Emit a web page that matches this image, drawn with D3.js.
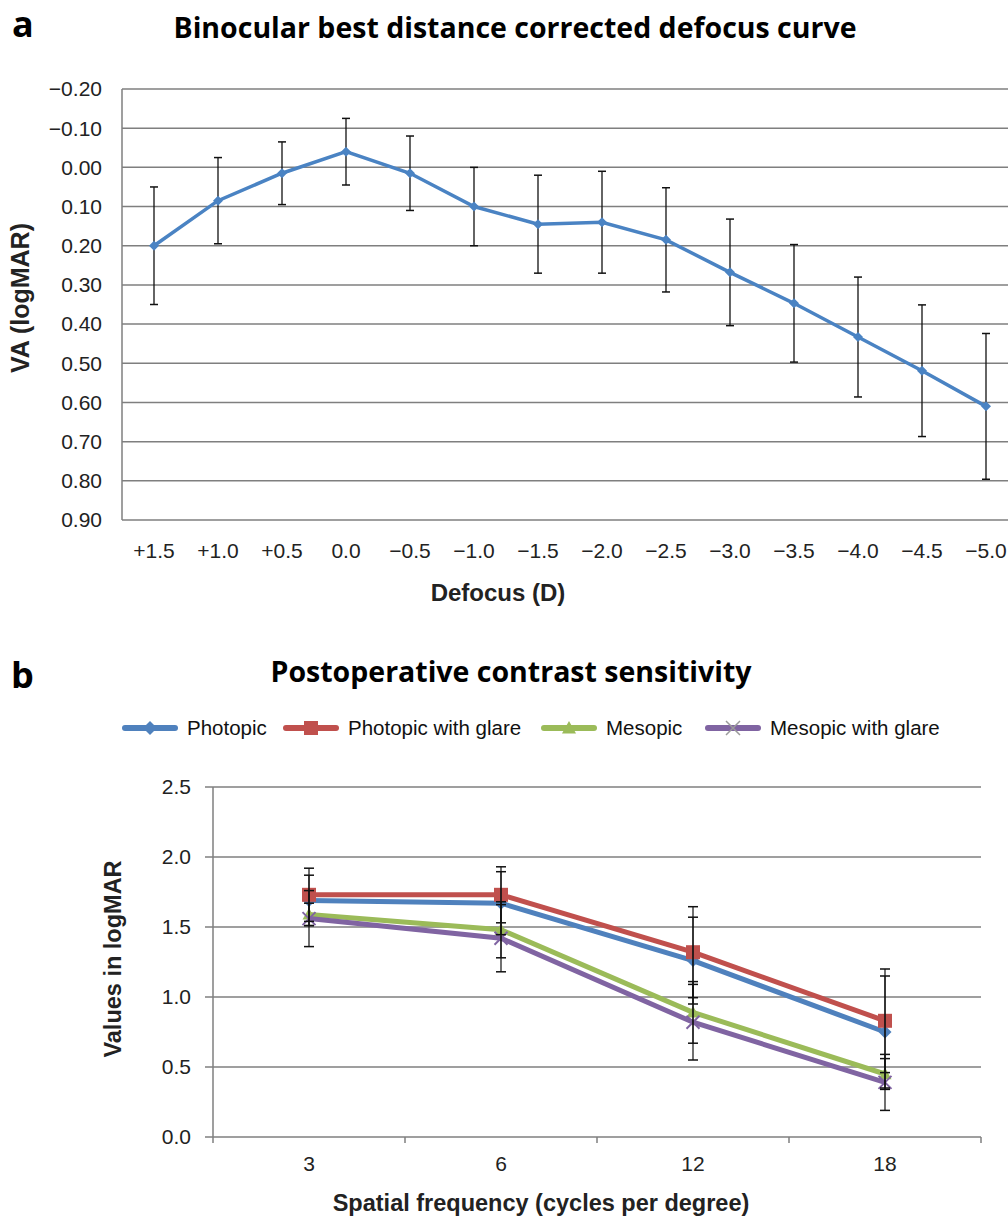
<!DOCTYPE html>
<html>
<head>
<meta charset="utf-8">
<script src="https://cdn.jsdelivr.net/npm/d3@7"></script>
<style>
  body { margin: 0; background: #fff; }
  svg { display: block; }
</style>
</head>
<body>
<div id="chart"></div>
<script>
// ---- panel a: defocus curve ----
const defocusLabels = ["+1.5", "+1.0", "+0.5", "0.0", "\u22120.5", "\u22121.0", "\u22121.5", "\u22122.0", "\u22122.5", "\u22123.0", "\u22123.5", "\u22124.0", "\u22124.5", "\u22125.0"];
const defocusVA = [0.20, 0.085, 0.015, -0.04, 0.015, 0.10, 0.145, 0.14, 0.185, 0.268, 0.347, 0.433, 0.519, 0.61];
const defocusSD = [0.15, 0.11, 0.08, 0.085, 0.095, 0.10, 0.125, 0.13, 0.133, 0.136, 0.15, 0.153, 0.168, 0.186];
const vaTicks = [-0.2, -0.1, 0, 0.1, 0.2, 0.3, 0.4, 0.5, 0.6, 0.7, 0.8, 0.9];

// ---- panel b: contrast sensitivity ----
const freqLabels = ["3", "6", "12", "18"];
const seriesNames = ["Photopic", "Photopic with glare", "Mesopic", "Mesopic with glare"];
const photopic = [1.69, 1.67, 1.26, 0.75];
const photopicGlare = [1.73, 1.73, 1.32, 0.83];
const mesopic = [1.59, 1.48, 0.89, 0.45];
const mesopicGlare = [1.56, 1.42, 0.82, 0.39];
const photopicSD = [0.18, 0.225, 0.31, 0.40];
const photopicGlareSD = [0.19, 0.20, 0.325, 0.37];
const mesopicSD = [0.08, 0.20, 0.22, 0.11];
const mesopicGlareSD = [0.20, 0.24, 0.27, 0.20];
const csTicks = [0, 0.5, 1.0, 1.5, 2.0, 2.5];

const seriesColors = ["#4F81BD", "#C0504D", "#9BBB59", "#8064A2"];
const seriesMarkers = ["diamond", "square", "triangle", "cross"];

const W = 1008, H = 1217;
const tickFont = "'Liberation Sans', Arial, sans-serif";
const titleFont = "'Open Sans', 'Noto Sans', sans-serif";

const svg = d3.select("#chart").append("svg")
    .attr("width", W)
    .attr("height", H);

// marker shapes
function markerPath(type, size) {
    const s = size / 2;
    if (type === "diamond") return `M0,${-s}L${s},0L0,${s}L${-s},0Z`;
    if (type === "square") return `M${-s},${-s}H${s}V${s}H${-s}Z`;
    if (type === "triangle") return `M0,${-s}L${s},${s * 0.8}H${-s}Z`;
    return `M${-s},${-s}L${s},${s}M${s},${-s}L${-s},${s}`;
}

// ================= panel a =================
const a = { left: 122, right: 1018, top: 89, bottom: 520 };

const xA = d3.scaleBand()
    .domain(defocusLabels)
    .range([a.left, a.right]);

const yA = d3.scaleLinear()
    .domain([-0.2, 0.9])
    .range([a.top, a.bottom]);

svg.append("text")
    .attr("x", 12).attr("y", 37)
    .style("font-family", titleFont)
    .style("font-weight", "bold")
    .style("font-size", "36px")
    .text("a");

svg.append("text")
    .attr("x", 515).attr("y", 38)
    .attr("text-anchor", "middle")
    .style("font-family", titleFont)
    .style("font-weight", "bold")
    .style("font-size", "28.5px")
    .text("Binocular best distance corrected defocus curve");

const gA = svg.append("g");

gA.selectAll(".grid")
    .data(vaTicks)
    .enter().append("line")
    .attr("x1", a.left).attr("x2", W)
    .attr("y1", d => yA(d)).attr("y2", d => yA(d))
    .attr("stroke", "#7f7f7f")
    .attr("stroke-width", 1.5);

gA.append("line")
    .attr("x1", a.left).attr("x2", a.left)
    .attr("y1", a.top).attr("y2", a.bottom)
    .attr("stroke", "#7f7f7f")
    .attr("stroke-width", 1.5);

const fmtA = d3.format(".2f");
gA.selectAll(".ytick")
    .data(vaTicks)
    .enter().append("text")
    .attr("x", 102)
    .attr("y", d => yA(d))
    .attr("dy", "0.35em")
    .attr("text-anchor", "end")
    .style("font-family", tickFont)
    .style("font-size", "21px")
    .attr("fill", "#222")
    .text(d => fmtA(d));

gA.selectAll(".xtick")
    .data(defocusLabels)
    .enter().append("text")
    .attr("x", d => xA(d) + xA.bandwidth() / 2)
    .attr("y", 558)
    .attr("text-anchor", "middle")
    .style("font-family", tickFont)
    .style("font-size", "21px")
    .attr("fill", "#222")
    .text(d => d);

svg.append("text")
    .attr("x", 498).attr("y", 601)
    .attr("text-anchor", "middle")
    .style("font-family", tickFont)
    .style("font-weight", "bold")
    .style("font-size", "24px")
    .attr("fill", "#222")
    .text("Defocus (D)");

svg.append("text")
    .attr("transform", "translate(29,298) rotate(-90)")
    .attr("text-anchor", "middle")
    .style("font-family", tickFont)
    .style("font-weight", "bold")
    .style("font-size", "25px")
    .attr("fill", "#222")
    .text("VA (logMAR)");

const ptsA = defocusLabels.map((l, i) => ({ x: xA(l) + xA.bandwidth() / 2, v: defocusVA[i], e: defocusSD[i] }));

const errA = gA.selectAll(".err")
    .data(ptsA)
    .enter().append("g");
errA.append("line")
    .attr("x1", d => d.x).attr("x2", d => d.x)
    .attr("y1", d => yA(d.v - d.e)).attr("y2", d => yA(d.v + d.e))
    .attr("stroke", "#111").attr("stroke-width", 1.3);
errA.selectAll(".cap")
    .data(d => [{ x: d.x, y: yA(d.v - d.e) }, { x: d.x, y: yA(d.v + d.e) }])
    .enter().append("line")
    .attr("x1", d => d.x - 4).attr("x2", d => d.x + 4)
    .attr("y1", d => d.y).attr("y2", d => d.y)
    .attr("stroke", "#111").attr("stroke-width", 1.5);

gA.append("path")
    .datum(ptsA)
    .attr("fill", "none")
    .attr("stroke", "#4A83C3")
    .attr("stroke-width", 3.5)
    .attr("d", d3.line().x(d => d.x).y(d => yA(d.v)));

gA.selectAll(".mk")
    .data(ptsA)
    .enter().append("path")
    .attr("transform", d => `translate(${d.x},${yA(d.v)})`)
    .attr("d", markerPath("diamond", 10))
    .attr("fill", "#4A83C3");

// ================= panel b =================
const b = { left: 213, right: 981, top: 787, bottom: 1137 };

const xB = d3.scaleBand()
    .domain(freqLabels)
    .range([b.left, b.right]);

const yB = d3.scaleLinear()
    .domain([0, 2.5])
    .range([b.bottom, b.top]);

svg.append("text")
    .attr("x", 11).attr("y", 688)
    .style("font-family", titleFont)
    .style("font-weight", "bold")
    .style("font-size", "36px")
    .text("b");

svg.append("text")
    .attr("x", 511).attr("y", 682)
    .attr("text-anchor", "middle")
    .style("font-family", titleFont)
    .style("font-weight", "bold")
    .style("font-size", "28.5px")
    .text("Postoperative contrast sensitivity");

const gB = svg.append("g");

gB.selectAll(".grid")
    .data(csTicks.slice(1))
    .enter().append("line")
    .attr("x1", b.left - 8).attr("x2", b.right)
    .attr("y1", d => yB(d)).attr("y2", d => yB(d))
    .attr("stroke", "#7f7f7f")
    .attr("stroke-width", 1.5);

gB.append("line")
    .attr("x1", b.left - 8).attr("x2", b.right)
    .attr("y1", b.bottom).attr("y2", b.bottom)
    .attr("stroke", "#7f7f7f").attr("stroke-width", 1.5);

gB.append("line")
    .attr("x1", b.left).attr("x2", b.left)
    .attr("y1", b.top).attr("y2", b.bottom)
    .attr("stroke", "#7f7f7f").attr("stroke-width", 1.5);

gB.selectAll(".xt")
    .data(freqLabels.map(l => xB(l)).concat([b.right]))
    .enter().append("line")
    .attr("x1", d => d).attr("x2", d => d)
    .attr("y1", b.bottom).attr("y2", b.bottom + 6)
    .attr("stroke", "#7f7f7f").attr("stroke-width", 1.5);

const fmtB = d3.format(".1f");
gB.selectAll(".ytick")
    .data(csTicks)
    .enter().append("text")
    .attr("x", 191)
    .attr("y", d => yB(d))
    .attr("dy", "0.35em")
    .attr("text-anchor", "end")
    .style("font-family", tickFont)
    .style("font-size", "21px")
    .attr("fill", "#222")
    .text(d => fmtB(d));

gB.selectAll(".xtick")
    .data(freqLabels)
    .enter().append("text")
    .attr("x", d => xB(d) + xB.bandwidth() / 2)
    .attr("y", 1171)
    .attr("text-anchor", "middle")
    .style("font-family", tickFont)
    .style("font-size", "21px")
    .attr("fill", "#222")
    .text(d => d);

svg.append("text")
    .attr("x", 541).attr("y", 1211)
    .attr("text-anchor", "middle")
    .style("font-family", tickFont)
    .style("font-weight", "bold")
    .style("font-size", "23.5px")
    .attr("fill", "#222")
    .text("Spatial frequency (cycles per degree)");

svg.append("text")
    .attr("transform", "translate(121,959) rotate(-90)")
    .attr("text-anchor", "middle")
    .style("font-family", tickFont)
    .style("font-weight", "bold")
    .style("font-size", "23.5px")
    .attr("fill", "#222")
    .text("Values in logMAR");

const seriesVals = [photopic, photopicGlare, mesopic, mesopicGlare];
const seriesSD = [photopicSD, photopicGlareSD, mesopicSD, mesopicGlareSD];
const seriesB = seriesNames.map((name, k) => ({
    name: name,
    color: seriesColors[k],
    marker: seriesMarkers[k],
    pts: freqLabels.map((l, i) => ({ x: xB(l) + xB.bandwidth() / 2, v: seriesVals[k][i], e: seriesSD[k][i] }))
}));

const lineB = d3.line().x(d => d.x).y(d => yB(d.v));

seriesB.forEach(s => {
    gB.append("path")
        .datum(s.pts)
        .attr("fill", "none")
        .attr("stroke", s.color)
        .attr("stroke-width", 5)
        .attr("d", lineB);
    const mk = gB.selectAll(null)
        .data(s.pts)
        .enter().append("path")
        .attr("transform", d => `translate(${d.x},${yB(d.v)})`)
        .attr("d", markerPath(s.marker, s.marker === "square" ? 14 : 13));
    if (s.marker === "cross") {
        mk.attr("fill", "none").attr("stroke", s.color).attr("stroke-width", 2);
    } else {
        mk.attr("fill", s.color);
    }
});

// error bars on top
seriesB.forEach(s => {
    const eg = gB.selectAll(null)
        .data(s.pts)
        .enter().append("g");
    eg.append("line")
        .attr("x1", d => d.x).attr("x2", d => d.x)
        .attr("y1", d => yB(d.v - d.e)).attr("y2", d => yB(d.v + d.e))
        .attr("stroke", "#111").attr("stroke-width", 1.2);
    eg.selectAll(null)
        .data(d => [{ x: d.x, y: yB(d.v - d.e) }, { x: d.x, y: yB(d.v + d.e) }])
        .enter().append("line")
        .attr("x1", d => d.x - 5).attr("x2", d => d.x + 5)
        .attr("y1", d => d.y).attr("y2", d => d.y)
        .attr("stroke", "#111").attr("stroke-width", 1.5);
});

// legend
const legendX = [123, 284, 542, 706];
const legend = svg.append("g");
seriesB.forEach((s, k) => {
    const g = legend.append("g").attr("transform", `translate(${legendX[k]},728)`);
    g.append("line")
        .attr("x1", 2).attr("x2", 52)
        .attr("y1", 0).attr("y2", 0)
        .attr("stroke", s.color)
        .attr("stroke-width", 6)
        .attr("stroke-linecap", "round");
    const m = g.append("path")
        .attr("transform", "translate(27,0)")
        .attr("d", markerPath(s.marker, 14));
    if (s.marker === "cross") {
        m.attr("fill", "none").attr("stroke", "#9a9a9a").attr("stroke-width", 1.5);
    } else {
        m.attr("fill", s.color);
    }
    g.append("text")
        .attr("x", 64).attr("y", 0)
        .attr("dy", "0.35em")
        .style("font-family", tickFont)
        .style("font-size", "20.5px")
        .attr("fill", "#111")
        .text(s.name);
});
</script>
</body>
</html>
